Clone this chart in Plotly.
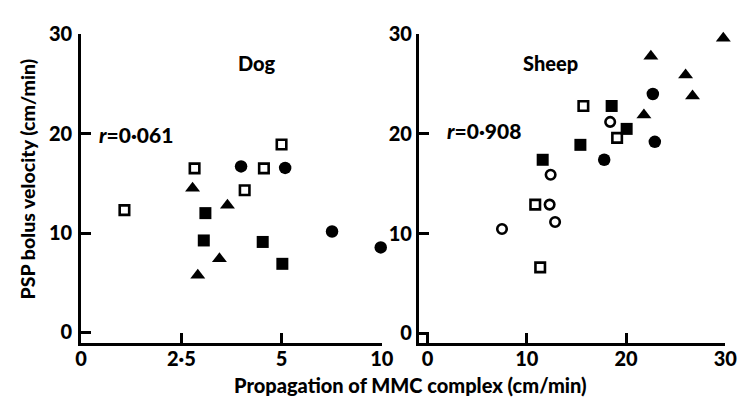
import plotly.graph_objects as go

# ---------------- data ----------------
# Dog panel (x: propagation of MMC complex, y: PSP bolus velocity), cm/min
dog_open_sq_x = [1.08, 2.83, 4.08, 4.56, 5.0]
dog_open_sq_y = [12.3, 16.5, 14.3, 16.5, 18.9]
dog_tri_x = [2.78, 2.91, 3.45, 3.65]
dog_tri_y = [14.5, 5.75, 7.4, 12.8]
dog_fsq_x = [3.06, 3.10, 4.53, 5.04]
dog_fsq_y = [9.25, 12.0, 9.1, 6.9]
dog_fci_x = [3.99, 5.18, 7.52, 9.95]
dog_fci_y = [16.7, 16.55, 10.15, 8.55]

# Sheep panel
sheep_open_sq_x = [10.85, 11.35, 15.7, 19.1]
sheep_open_sq_y = [12.9, 6.6, 22.8, 19.6]
sheep_open_ci_x = [7.5, 12.3, 12.4, 12.85, 18.4]
sheep_open_ci_y = [10.45, 12.9, 15.9, 11.15, 21.2]
sheep_fsq_x = [11.6, 15.4, 18.55, 20.06]
sheep_fsq_y = [17.4, 18.9, 22.8, 20.5]
sheep_fci_x = [17.8, 22.7, 22.9]
sheep_fci_y = [17.4, 24.0, 19.2]
sheep_tri_x = [21.8, 22.5, 26.0, 26.7, 29.8]
sheep_tri_y = [21.9, 27.8, 25.9, 23.8, 29.6]

dog_tick_vals = [0, 2.5, 5, 10]
dog_tick_text = ["0", "2·5", "5", "10"]
sheep_tick_vals = [0, 10, 20, 30]
y_tick_vals = [0, 10, 20, 30]

dog_r = "<i>r</i>=0·061"
sheep_r = "<i>r</i>=0·908"


# Dog x axis is broken: the 5-10 segment is drawn at half scale
def dog_axis(v):
    return v if v <= 5 else 5 + (v - 5) / 2


def dog_axis_list(vals):
    return [dog_axis(v) for v in vals]


W, H = 749, 400
FONT = "Lato"
WEIGHT = 900
BLACK = "black"


def px(x):
    return x / W


def py(y):
    return 1 - y / H


fig = go.Figure()


def add(xs, ys, symbol, size, axis, lw=0):
    fig.add_trace(go.Scatter(
        x=xs, y=ys, mode="markers",
        xaxis="x" if axis == 1 else "x2",
        yaxis="y" if axis == 1 else "y2",
        cliponaxis=False,
        marker=dict(symbol=symbol, size=size, color=BLACK,
                    line=dict(color=BLACK, width=lw)),
        showlegend=False, hoverinfo="skip"))


# Dog
add(dog_axis_list(dog_open_sq_x), dog_open_sq_y, "square-open", 9.5, 1, 2.6)
add(dog_axis_list(dog_tri_x), dog_tri_y, "triangle-up", 13, 1)
add(dog_axis_list(dog_fsq_x), dog_fsq_y, "square", 12, 1)
add(dog_axis_list(dog_fci_x), dog_fci_y, "circle", 12.5, 1)

# Sheep
add(sheep_open_sq_x, sheep_open_sq_y, "square-open", 9.5, 2, 2.6)
add(sheep_open_ci_x, sheep_open_ci_y, "circle-open", 9.5, 2, 2.6)
add(sheep_fsq_x, sheep_fsq_y, "square", 12, 2)
add(sheep_fci_x, sheep_fci_y, "circle", 12.5, 2)
add(sheep_tri_x, sheep_tri_y, "triangle-up", 13, 2)

tickfont = dict(family=FONT, size=20, color=BLACK, weight=WEIGHT)
axis_common = dict(showline=True, linecolor=BLACK, linewidth=3,
                   ticks="inside", ticklen=10, tickwidth=3, tickcolor=BLACK,
                   showgrid=False, zeroline=False, tickfont=tickfont,
                   fixedrange=True)

dom_y = [py(342), py(22)]

fig.update_layout(
    width=W, height=H,
    margin=dict(l=0, r=0, t=0, b=0),
    paper_bgcolor="white", plot_bgcolor="white",
    xaxis=dict(domain=[px(77), px(385)], range=[0, 7.5], anchor="y",
               tickvals=dog_axis_list(dog_tick_vals), ticktext=dog_tick_text,
               ticklabelstandoff=-4, **axis_common),
    yaxis=dict(domain=dom_y, range=[-1.07, 30], anchor="x",
               tickvals=y_tick_vals, ticklabelstandoff=2, **axis_common),
    xaxis2=dict(domain=[px(423), px(737)], range=[-0.88, 30], anchor="y2",
                tickvals=sheep_tick_vals, ticklabelstandoff=-4, **axis_common),
    yaxis2=dict(domain=dom_y, range=[-0.99, 30], anchor="x2",
                tickvals=y_tick_vals, ticklabelstandoff=0, **axis_common),
)

labfont = dict(family=FONT, size=20, color=BLACK, weight=WEIGHT)


def note(text, x, y, angle=0, size=20):
    f = dict(labfont)
    f["size"] = size
    fig.add_annotation(text=text, xref="paper", yref="paper",
                       x=px(x), y=py(y), xanchor="center", yanchor="middle",
                       showarrow=False, textangle=angle, font=f)


note("Dog", 257, 52)
note("Sheep", 558, 52)
note(dog_r, 133, 126, size=21)
note(sheep_r, 490, 122, size=21)
note("Propagation of MMC complex (cm/min)", 414, 385, size=20)
note("PSP bolus velocity (cm/min)", 23, 172, angle=-90, size=19.5)

fig.write_html("out.html")
